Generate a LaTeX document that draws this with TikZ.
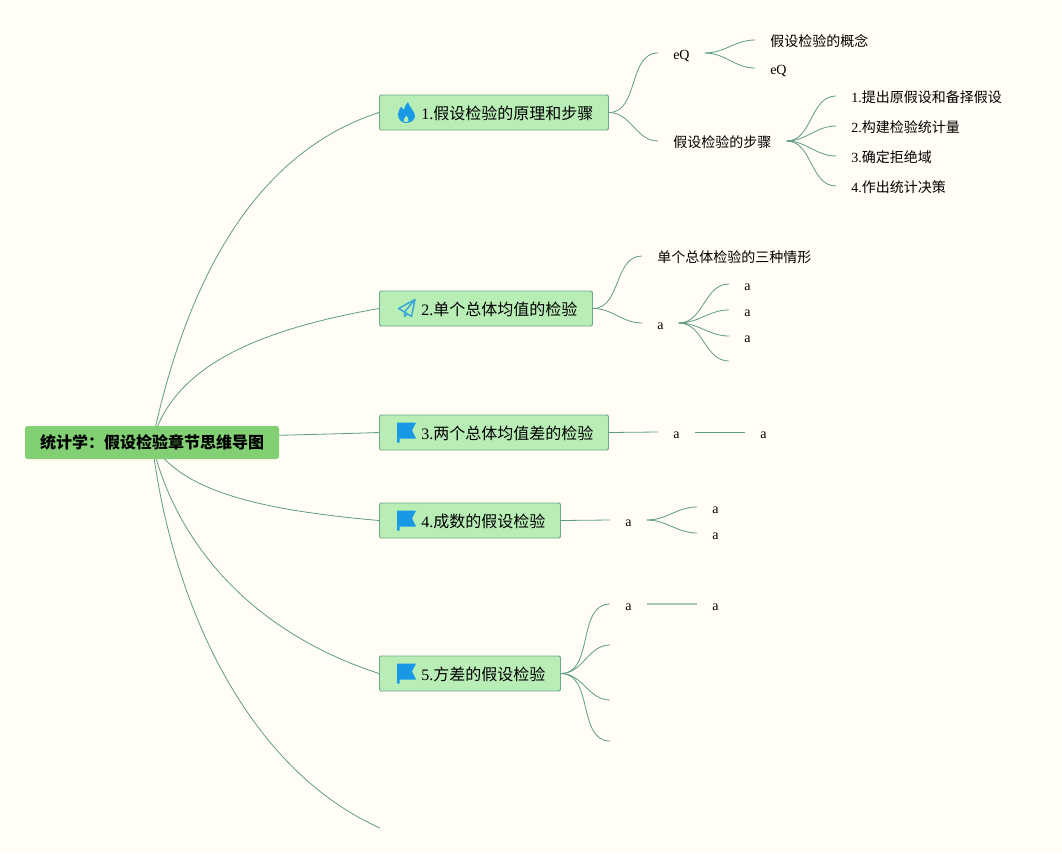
\documentclass[tikz,border=0pt]{standalone}
\usepackage{xcolor}
\usepackage{fontspec}
\setmainfont{Liberation Serif}
\newfontfamily\cjk{Noto Sans CJK SC}
\usetikzlibrary{backgrounds}
\definecolor{paper}{HTML}{FFFDF4}
\definecolor{rootgreen}{HTML}{82CF74}
\definecolor{topicgreen}{HTML}{B9EDB6}
\definecolor{boxline}{HTML}{6CA68C}
\definecolor{branchline}{HTML}{5F9C88}
\definecolor{iconblue}{HTML}{1799E6}
\definecolor{planeblue}{HTML}{3BA6DA}
\newcommand{\zh}[1]{{\cjk #1}}
\tikzset{
  flag_icon/.pic={
    \fill[iconblue] (18,-10) -- (37,-10) -- (33,-2) -- (37,6) -- (20.5,6) -- (20.5,10) -- (18,10) -- cycle;
  },
  flame_icon/.pic={
    \fill[iconblue] (29,-10.5) .. controls (30,-5) and (36.5,-1) .. (36,4) .. controls (35.5,8) and (31,10.5) .. (27,10.5)
      .. controls (23,10.5) and (19,7) .. (19,2) .. controls (19,-1) and (21,-4) .. (22,-6)
      .. controls (23,-4) and (24,-3) .. (25,-3) .. controls (26,-6) and (27,-9) .. (29,-10.5) -- cycle;
    \fill[topicgreen] (27.5,3) .. controls (28,5) and (30,6) .. (29.5,8) .. controls (29,10) and (25,10) .. (24.5,8)
      .. controls (24.2,6) and (26.5,5) .. (27.5,3) -- cycle;
  },
  plane_icon/.pic={
    \draw[color=planeblue,line width=1.1pt,line join=round] (36,-9) -- (19.5,0) -- (25.5,3.5) -- (32.5,8) -- cycle
      (36,-9) -- (25.5,3.5) -- (25.5,8) -- (28.5,5.5);
  }
}
\begin{document}
\begin{tikzpicture}[x=0.75pt,y=-0.75pt]
    \tikzstyle{root_node}=[rounded corners=2pt,fill=rootgreen,font=\fontsize{12}{14}\selectfont\bfseries,minimum width=190.5pt,minimum height=24.75pt,inner sep=0pt]
    \tikzstyle{topic_node}=[rounded corners=1pt,fill=topicgreen,draw=boxline,line width=0.7pt,anchor=west,font=\fontsize{12}{14}\selectfont,minimum height=26.25pt,inner ysep=0pt,inner xsep=11.25pt,text height=12.5pt,text depth=1.5pt]
    \tikzstyle{leaf_node}=[anchor=west,font=\fontsize{10.5}{12}\selectfont,inner xsep=11.25pt,inner ysep=0pt,text height=10.5pt,text depth=1.5pt]
    \tikzstyle{branch}=[draw=branchline,line width=0.6pt]
    \useasboundingbox (0,0) rectangle (1062,853);

    \node[root_node]  (root) at (152,442.5)        {\zh{统计学：假设检验章节思维导图}};

    \node[topic_node] (principle) at (379,112.5)   {\hspace*{20.25pt}1.\zh{假设检验的原理和步骤}};
    \node[topic_node] (single)    at (379,308.5)   {\hspace*{20.25pt}2.\zh{单个总体均值的检验}};
    \node[topic_node] (twomeans)  at (379,432.5)   {\hspace*{20.25pt}3.\zh{两个总体均值差的检验}};
    \node[topic_node] (ratio)     at (379,520.5)   {\hspace*{20.25pt}4.\zh{成数的假设检验}};
    \node[topic_node] (variance)  at (379,673.5)   {\hspace*{20.25pt}5.\zh{方差的假设检验}};
    \coordinate (rootfree) at (380,828);

    \pic at (principle.west) {flame_icon};
    \pic at (single.west) {plane_icon};
    \pic at (twomeans.west) {flag_icon};
    \pic at (ratio.west) {flag_icon};
    \pic at (variance.west) {flag_icon};

    \node[leaf_node]  (eq)      at (658,53)  {eQ};
    \node[leaf_node]  (concept) at (755,40)  {\zh{假设检验的概念}};
    \node[leaf_node]  (eqsub)   at (755,68)  {eQ};
    \node[leaf_node]  (steps)   at (658,141) {\zh{假设检验的步骤}};
    \node[leaf_node]  (stepa)   at (836,96)  {1.\zh{提出原假设和备择假设}};
    \node[leaf_node]  (stepb)   at (836,126) {2.\zh{构建检验统计量}};
    \node[leaf_node]  (stepc)   at (836,156) {3.\zh{确定拒绝域}};
    \node[leaf_node]  (stepd)   at (836,186) {4.\zh{作出统计决策}};

    \node[leaf_node]  (cases)   at (642,256) {\zh{单个总体检验的三种情形}};
    \node[leaf_node]  (sa)      at (642,323) {a};
    \node[leaf_node]  (saa)     at (729,284) {a};
    \node[leaf_node]  (sab)     at (729,310) {a};
    \node[leaf_node]  (sac)     at (729,336) {a};
    \coordinate (safree) at (729,361);

    \node[leaf_node]  (ta)      at (658,432) {a};
    \node[leaf_node]  (taa)     at (745,432) {a};

    \node[leaf_node]  (ra)      at (610,520) {a};
    \node[leaf_node]  (raa)     at (697,507) {a};
    \node[leaf_node]  (rab)     at (697,533) {a};

    \node[leaf_node]  (va)      at (610,604) {a};
    \node[leaf_node]  (vaa)     at (697,604) {a};
    \coordinate (vfreea) at (610,645);
    \coordinate (vfreeb) at (610,700);
    \coordinate (vfreec) at (610,741);

    \begin{scope}[on background layer]
    \fill[paper] (0,0) rectangle (1062,853);
    \path[branch]
    (root.center) edge[out=78,in=198,out min distance=116pt,out max distance=116pt,in min distance=103pt,in max distance=103pt]  (principle.west)
    (root.center) edge[out=75,in=190,out min distance=60pt,out max distance=60pt,in min distance=91pt,in max distance=91pt]   (single.west)
    (root.center) edge[out=5,in=182]                  (twomeans.west)
    (root.center) edge[out=-60,in=175,out min distance=42pt,out max distance=42pt,in min distance=90pt,in max distance=90pt]  (ratio.west)
    (root.center) edge[out=-77,in=162,out min distance=75pt,out max distance=75pt,in min distance=103pt,in max distance=103pt]  (variance.west)
    (root.center) edge[out=-83,in=156,out min distance=127pt,out max distance=127pt,in min distance=106pt,in max distance=106pt]    (rootfree);
    \end{scope}

    \path[branch]
    (principle.east) edge[out=0,in=180] (eq.west)
    (principle.east) edge[out=0,in=180] (steps.west)
    (eq.east) edge[out=0,in=180] (concept.west)
    (eq.east) edge[out=0,in=180] (eqsub.west)
    (steps.east) edge[out=0,in=180] (stepa.west)
    (steps.east) edge[out=0,in=180] (stepb.west)
    (steps.east) edge[out=0,in=180] (stepc.west)
    (steps.east) edge[out=0,in=180] (stepd.west)
    (single.east) edge[out=0,in=180] (cases.west)
    (single.east) edge[out=0,in=180] (sa.west)
    (sa.east) edge[out=0,in=180] (saa.west)
    (sa.east) edge[out=0,in=180] (sab.west)
    (sa.east) edge[out=0,in=180] (sac.west)
    (sa.east) edge[out=0,in=180] (safree)
    (twomeans.east) edge (ta.west)
    (ta.east) edge (taa.west)
    (ratio.east) edge (ra.west)
    (ra.east) edge[out=0,in=180] (raa.west)
    (ra.east) edge[out=0,in=180] (rab.west)
    (variance.east) edge[out=0,in=180] (va.west)
    (variance.east) edge[out=0,in=180] (vfreea)
    (variance.east) edge[out=0,in=180] (vfreeb)
    (variance.east) edge[out=0,in=180] (vfreec);
    \path[draw=branchline!55!paper,line width=0.8pt] (va.east) edge (vaa.west);
\end{tikzpicture}
\end{document}
